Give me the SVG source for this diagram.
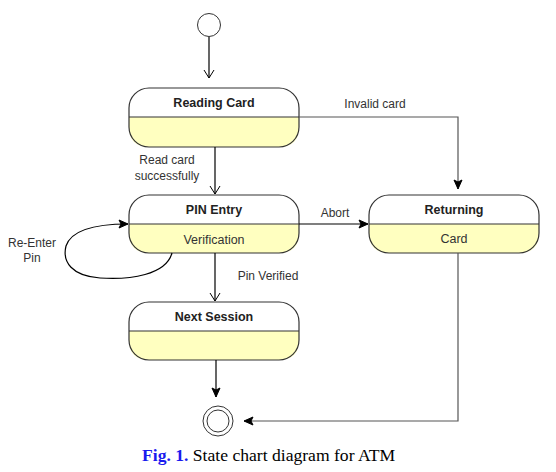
<svg xmlns="http://www.w3.org/2000/svg" width="556" height="472" viewBox="0 0 556 472">
<defs>
<marker id="open" markerWidth="12" markerHeight="12" refX="10" refY="6" orient="auto" markerUnits="userSpaceOnUse">
<path d="M2,1 L10,6 L2,11" fill="none" stroke="#000" stroke-width="1"/>
</marker>
<marker id="filled" markerWidth="12" markerHeight="12" refX="10" refY="6" orient="auto" markerUnits="userSpaceOnUse">
<path d="M1,2 L10,6 L1,10 L3,6 Z" fill="#000" stroke="#000" stroke-width="1"/>
</marker>
</defs>
<style>
.lbl{font-family:"Liberation Sans",Arial,sans-serif;font-size:12px;fill:#333;text-anchor:middle}
.title{font-family:"Liberation Sans",Arial,sans-serif;font-size:12.5px;font-weight:bold;fill:#222;text-anchor:middle}
.sub{font-family:"Liberation Sans",Arial,sans-serif;font-size:12.5px;fill:#333;text-anchor:middle}
.edge{fill:none;stroke:#000;stroke-width:1.2}
.gray{fill:none;stroke:#555;stroke-width:1.2}
.frame{fill:none;stroke:#333;stroke-width:1.2}
.low{fill:#ffffc0}
</style>
<rect width="556" height="472" fill="#fff"/>
<g id="start">
<circle cx="209" cy="25" r="11.5" fill="#fff" stroke="#333" stroke-width="1"/>
</g>
<g id="reading-card">
<path class="low" d="M129,117 H299 V127 Q299,147 279,147 H149 Q129,147 129,127 Z"/>
<rect class="frame" x="129" y="88" width="170" height="59" rx="20" ry="20"/>
<line x1="129" y1="117" x2="299" y2="117" stroke="#333" stroke-width="1.2"/>
<text class="title" x="214" y="107">Reading Card</text>
</g>
<g id="pin-entry">
<path class="low" d="M129,224 H299 V233 Q299,253 279,253 H149 Q129,253 129,233 Z"/>
<rect class="frame" x="129" y="195" width="170" height="58" rx="20" ry="20"/>
<line x1="129" y1="224" x2="299" y2="224" stroke="#333" stroke-width="1.2"/>
<text class="title" x="214" y="214">PIN Entry</text>
<text class="sub" x="214" y="244">Verification</text>
</g>
<g id="returning">
<path class="low" d="M369,224 H539 V233 Q539,253 519,253 H389 Q369,253 369,233 Z"/>
<rect class="frame" x="369" y="195" width="170" height="58" rx="20" ry="20"/>
<line x1="369" y1="224" x2="539" y2="224" stroke="#333" stroke-width="1.2"/>
<text class="title" x="454" y="214">Returning</text>
<text class="sub" x="454" y="243">Card</text>
</g>
<g id="next-session">
<path class="low" d="M129,331 H299 V340 Q299,360 279,360 H149 Q129,360 129,340 Z"/>
<rect class="frame" x="129" y="302" width="170" height="58" rx="20" ry="20"/>
<line x1="129" y1="331" x2="299" y2="331" stroke="#333" stroke-width="1.2"/>
<text class="title" x="214" y="321">Next Session</text>
</g>
<g id="final">
<circle cx="218" cy="421" r="15" fill="#fff" stroke="#333" stroke-width="1"/>
<circle cx="218" cy="421" r="11" fill="#fff" stroke="#333" stroke-width="1"/>
</g>
<g id="connectors">
<line class="edge" x1="209" y1="37" x2="209" y2="78" marker-end="url(#open)"/>
<line class="edge" x1="215" y1="147" x2="215" y2="194" marker-end="url(#open)"/>
<polyline class="gray" points="299,117 458,117 458,189" marker-end="url(#filled)"/>
<line class="edge" x1="299" y1="224" x2="368" y2="224" marker-end="url(#filled)"/>
<line class="edge" x1="215" y1="253" x2="215" y2="301" marker-end="url(#open)"/>
<path class="edge" d="M172,253 C166,275 130,280 100,278 C72,276 62,262 66,246 C72,228 100,224 128,224" marker-end="url(#filled)"/>
<line class="edge" x1="216" y1="360" x2="216" y2="397" marker-end="url(#filled)"/>
<polyline class="gray" points="458,253 458,421 244,421" marker-end="url(#filled)"/>
<text class="lbl" x="167" y="164">Read card</text>
<text class="lbl" x="167" y="180">successfully</text>
<text class="lbl" x="375" y="108">Invalid card</text>
<text class="lbl" x="335" y="217">Abort</text>
<text class="lbl" x="268" y="280">Pin Verified</text>
<text class="lbl" x="32" y="247">Re-Enter</text>
<text class="lbl" x="32" y="262">Pin</text>
</g>
<text x="142" y="461" font-family="'Liberation Serif','Times New Roman',serif" font-size="17.6px" fill="#000"><tspan font-weight="bold" fill="#1a1aee">Fig. 1.</tspan> State chart diagram for ATM</text>
</svg>
